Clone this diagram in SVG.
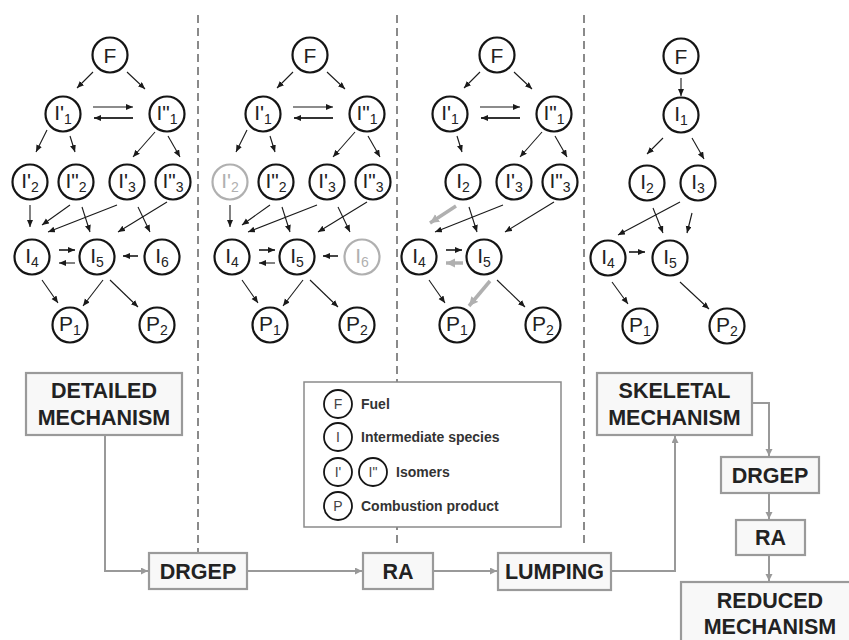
<svg xmlns="http://www.w3.org/2000/svg" width="849" height="640" viewBox="0 0 849 640">
<defs>
<style>
.n circle{fill:#fff;stroke:#151515;stroke-width:2.2}
.n text{font-family:"Liberation Sans",Arial,sans-serif;font-size:21px;fill:#222;text-anchor:middle}
.g circle{stroke:#b0b0b0}
.g text{fill:#b0b0b0}
.sub{font-size:14px}
.e{stroke:#1a1a1a;stroke-width:1.1;fill:none;marker-end:url(#ah)}
.eb{stroke:#333;stroke-width:1.8;fill:none;marker-end:url(#ah)}
.eg{stroke:#b0b0b0;stroke-width:3.5;fill:none;marker-end:url(#ahg)}
.f{stroke:#999;stroke-width:2;fill:none;marker-end:url(#ahf)}
.d{stroke:#8a8a8a;stroke-width:2;stroke-dasharray:8,5;fill:none}
.box rect{fill:#f8f8f8;stroke:#9a9a9a;stroke-width:2.2}
.box text{font-family:"Liberation Sans",Arial,sans-serif;font-size:21.5px;font-weight:bold;fill:#222;text-anchor:middle}
.lg circle{fill:#fff;stroke:#151515;stroke-width:1.8}
.lg .c{font-family:"Liberation Sans",Arial,sans-serif;font-size:14px;fill:#444;text-anchor:middle}
.lg .t{font-family:"Liberation Sans",Arial,sans-serif;font-size:14px;font-weight:bold;fill:#333}
</style>
<marker id="ah" markerUnits="userSpaceOnUse" markerWidth="9" markerHeight="8" refX="7" refY="3" orient="auto"><path d="M0,0 L7,3 L0,6 z" fill="#1a1a1a"/></marker>
<marker id="ahg" markerUnits="userSpaceOnUse" markerWidth="12" markerHeight="12" refX="9" refY="4.5" orient="auto"><path d="M0,0 L9,4.5 L0,9 z" fill="#b0b0b0"/></marker>
<marker id="ahf" markerUnits="userSpaceOnUse" markerWidth="9" markerHeight="9" refX="7" refY="3.5" orient="auto"><path d="M0,0 L7,3.5 L0,7 z" fill="#999"/></marker>
</defs>
<rect width="849" height="640" fill="#fff"/>

<g id="dividers">
<line class="d" x1="198" y1="15" x2="198" y2="552"/>
<line class="d" x1="397" y1="15" x2="397" y2="545"/>
<line class="d" x1="584" y1="15" x2="584" y2="545"/>
</g>

<g id="connectors">
<!-- panel 1 -->
<line class="e" x1="93" y1="72" x2="77" y2="88"/>
<line class="e" x1="127" y1="72" x2="145" y2="89"/>
<line class="e" x1="93" y1="107" x2="133" y2="107"/>
<line class="eb" x1="133" y1="118" x2="94" y2="118"/>
<line class="e" x1="47" y1="130" x2="36" y2="152"/>
<line class="e" x1="70" y1="136" x2="75" y2="152"/>
<line class="e" x1="155" y1="132" x2="133" y2="157"/>
<line class="e" x1="168" y1="136" x2="180" y2="157"/>
<line class="e" x1="30" y1="205" x2="30" y2="227"/>
<line class="e" x1="70" y1="205" x2="42" y2="225"/>
<line class="e" x1="82" y1="207" x2="90" y2="232"/>
<line class="e" x1="117" y1="205" x2="48" y2="232"/>
<line class="e" x1="138" y1="207" x2="150" y2="232"/>
<line class="e" x1="167" y1="202" x2="118" y2="232"/>
<line class="eb" x1="59" y1="250" x2="75" y2="250"/>
<line class="e" x1="75" y1="263" x2="59" y2="263"/>
<line class="eb" x1="138" y1="256" x2="123" y2="256"/>
<line class="e" x1="42" y1="280" x2="58" y2="303"/>
<line class="e" x1="103" y1="280" x2="83" y2="306"/>
<line class="e" x1="110" y1="280" x2="138" y2="307"/>
<!-- panel 2 -->
<line class="e" x1="293" y1="72" x2="277" y2="88"/>
<line class="e" x1="327" y1="72" x2="345" y2="89"/>
<line class="e" x1="293" y1="107" x2="333" y2="107"/>
<line class="eb" x1="333" y1="118" x2="294" y2="118"/>
<line class="e" x1="247" y1="130" x2="236" y2="152"/>
<line class="e" x1="270" y1="136" x2="275" y2="152"/>
<line class="e" x1="355" y1="132" x2="333" y2="157"/>
<line class="e" x1="368" y1="136" x2="380" y2="157"/>
<line class="e" x1="230" y1="205" x2="230" y2="227"/>
<line class="e" x1="270" y1="205" x2="242" y2="225"/>
<line class="e" x1="282" y1="207" x2="290" y2="232"/>
<line class="e" x1="317" y1="205" x2="248" y2="232"/>
<line class="e" x1="338" y1="207" x2="350" y2="232"/>
<line class="e" x1="367" y1="202" x2="318" y2="232"/>
<line class="eb" x1="259" y1="250" x2="275" y2="250"/>
<line class="e" x1="275" y1="263" x2="259" y2="263"/>
<line class="eb" x1="338" y1="256" x2="323" y2="256"/>
<line class="e" x1="242" y1="280" x2="258" y2="303"/>
<line class="e" x1="303" y1="280" x2="283" y2="306"/>
<line class="e" x1="310" y1="280" x2="338" y2="307"/>
<!-- panel 3 -->
<line class="e" x1="480" y1="72" x2="464" y2="88"/>
<line class="e" x1="514" y1="72" x2="532" y2="89"/>
<line class="e" x1="480" y1="107" x2="520" y2="107"/>
<line class="eb" x1="520" y1="118" x2="481" y2="118"/>
<line class="e" x1="457" y1="136" x2="462" y2="152"/>
<line class="e" x1="542" y1="132" x2="520" y2="157"/>
<line class="e" x1="555" y1="136" x2="567" y2="157"/>
<line class="eg" x1="456" y1="206" x2="430" y2="223"/>
<line class="e" x1="469" y1="207" x2="477" y2="232"/>
<line class="e" x1="503" y1="205" x2="435" y2="232"/>
<line class="e" x1="554" y1="202" x2="505" y2="232"/>
<line class="eb" x1="446" y1="250" x2="462" y2="250"/>
<line class="eg" x1="463" y1="263" x2="446" y2="263"/>
<line class="e" x1="429" y1="280" x2="445" y2="303"/>
<line class="eg" x1="490" y1="281" x2="469" y2="306"/>
<line class="e" x1="497" y1="280" x2="525" y2="307"/>
<!-- panel 4 -->
<line class="e" x1="681" y1="78" x2="681" y2="96"/>
<line class="e" x1="663" y1="138" x2="647" y2="154"/>
<line class="e" x1="692" y1="138" x2="704" y2="159"/>
<line class="e" x1="680" y1="202" x2="618" y2="235"/>
<line class="e" x1="653" y1="208" x2="663" y2="233"/>
<line class="e" x1="692" y1="213" x2="687" y2="233"/>
<line class="eb" x1="629" y1="252" x2="645" y2="252"/>
<line class="e" x1="612" y1="282" x2="628" y2="304"/>
<line class="e" x1="680" y1="282" x2="709" y2="309"/>
<!-- process flow -->
<polyline class="f" points="105,435 105,571 148,571"/>
<line class="f" x1="247" y1="571" x2="362" y2="571"/>
<line class="f" x1="433" y1="571" x2="497" y2="571"/>
<polyline class="f" points="611,571 675,571 675,436"/>
<polyline class="f" points="752,403 769,403 769,456"/>
<line class="f" x1="769" y1="493" x2="769" y2="519"/>
<line class="f" x1="769" y1="555" x2="769" y2="581"/>
</g>

<!-- panel 1 nodes -->
<g id="p1_F" class="n"><circle cx="110" cy="55" r="17.5"/><text x="110" y="63">F</text></g>
<g id="p1_I1a" class="n"><circle cx="63" cy="114" r="17.5"/><text x="63" y="120">I'<tspan class="sub" dy="4">1</tspan></text></g>
<g id="p1_I1b" class="n"><circle cx="167" cy="114" r="17.5"/><text x="167" y="120">I"<tspan class="sub" dy="4">1</tspan></text></g>
<g id="p1_I2a" class="n"><circle cx="30" cy="182" r="17.5"/><text x="30" y="188">I'<tspan class="sub" dy="4">2</tspan></text></g>
<g id="p1_I2b" class="n"><circle cx="76" cy="182" r="17.5"/><text x="76" y="188">I"<tspan class="sub" dy="4">2</tspan></text></g>
<g id="p1_I3a" class="n"><circle cx="127" cy="182" r="17.5"/><text x="127" y="188">I'<tspan class="sub" dy="4">3</tspan></text></g>
<g id="p1_I3b" class="n"><circle cx="173" cy="182" r="17.5"/><text x="173" y="188">I"<tspan class="sub" dy="4">3</tspan></text></g>
<g id="p1_I4" class="n"><circle cx="32" cy="257" r="17.5"/><text x="32" y="263">I<tspan class="sub" dy="4">4</tspan></text></g>
<g id="p1_I5" class="n"><circle cx="97" cy="257" r="17.5"/><text x="97" y="263">I<tspan class="sub" dy="4">5</tspan></text></g>
<g id="p1_I6" class="n"><circle cx="162" cy="257" r="17.5"/><text x="162" y="263">I<tspan class="sub" dy="4">6</tspan></text></g>
<g id="p1_P1" class="n"><circle cx="70" cy="325" r="17.5"/><text x="70" y="331">P<tspan class="sub" dy="4">1</tspan></text></g>
<g id="p1_P2" class="n"><circle cx="157" cy="325" r="17.5"/><text x="157" y="331">P<tspan class="sub" dy="4">2</tspan></text></g>

<!-- panel 2 nodes -->
<g id="p2_F" class="n"><circle cx="310" cy="55" r="17.5"/><text x="310" y="63">F</text></g>
<g id="p2_I1a" class="n"><circle cx="263" cy="114" r="17.5"/><text x="263" y="120">I'<tspan class="sub" dy="4">1</tspan></text></g>
<g id="p2_I1b" class="n"><circle cx="367" cy="114" r="17.5"/><text x="367" y="120">I"<tspan class="sub" dy="4">1</tspan></text></g>
<g id="p2_I2a" class="n g"><circle cx="230" cy="182" r="17.5"/><text x="230" y="188">I'<tspan class="sub" dy="4">2</tspan></text></g>
<g id="p2_I2b" class="n"><circle cx="276" cy="182" r="17.5"/><text x="276" y="188">I"<tspan class="sub" dy="4">2</tspan></text></g>
<g id="p2_I3a" class="n"><circle cx="327" cy="182" r="17.5"/><text x="327" y="188">I'<tspan class="sub" dy="4">3</tspan></text></g>
<g id="p2_I3b" class="n"><circle cx="373" cy="182" r="17.5"/><text x="373" y="188">I"<tspan class="sub" dy="4">3</tspan></text></g>
<g id="p2_I4" class="n"><circle cx="232" cy="257" r="17.5"/><text x="232" y="263">I<tspan class="sub" dy="4">4</tspan></text></g>
<g id="p2_I5" class="n"><circle cx="297" cy="257" r="17.5"/><text x="297" y="263">I<tspan class="sub" dy="4">5</tspan></text></g>
<g id="p2_I6" class="n g"><circle cx="362" cy="257" r="17.5"/><text x="362" y="263">I<tspan class="sub" dy="4">6</tspan></text></g>
<g id="p2_P1" class="n"><circle cx="270" cy="325" r="17.5"/><text x="270" y="331">P<tspan class="sub" dy="4">1</tspan></text></g>
<g id="p2_P2" class="n"><circle cx="357" cy="325" r="17.5"/><text x="357" y="331">P<tspan class="sub" dy="4">2</tspan></text></g>

<!-- panel 3 nodes -->
<g id="p3_F" class="n"><circle cx="497" cy="55" r="17.5"/><text x="497" y="63">F</text></g>
<g id="p3_I1a" class="n"><circle cx="450" cy="114" r="17.5"/><text x="450" y="120">I'<tspan class="sub" dy="4">1</tspan></text></g>
<g id="p3_I1b" class="n"><circle cx="554" cy="114" r="17.5"/><text x="554" y="120">I"<tspan class="sub" dy="4">1</tspan></text></g>
<g id="p3_I2" class="n"><circle cx="463" cy="182" r="17.5"/><text x="463" y="188">I<tspan class="sub" dy="4">2</tspan></text></g>
<g id="p3_I3a" class="n"><circle cx="514" cy="182" r="17.5"/><text x="514" y="188">I'<tspan class="sub" dy="4">3</tspan></text></g>
<g id="p3_I3b" class="n"><circle cx="560" cy="182" r="17.5"/><text x="560" y="188">I"<tspan class="sub" dy="4">3</tspan></text></g>
<g id="p3_I4" class="n"><circle cx="419" cy="257" r="17.5"/><text x="419" y="263">I<tspan class="sub" dy="4">4</tspan></text></g>
<g id="p3_I5" class="n"><circle cx="484" cy="257" r="17.5"/><text x="484" y="263">I<tspan class="sub" dy="4">5</tspan></text></g>
<g id="p3_P1" class="n"><circle cx="457" cy="325" r="17.5"/><text x="457" y="331">P<tspan class="sub" dy="4">1</tspan></text></g>
<g id="p3_P2" class="n"><circle cx="543" cy="325" r="17.5"/><text x="543" y="331">P<tspan class="sub" dy="4">2</tspan></text></g>

<!-- panel 4 nodes -->
<g id="p4_F" class="n"><circle cx="681" cy="56" r="17.5"/><text x="681" y="64">F</text></g>
<g id="p4_I1" class="n"><circle cx="681" cy="115" r="17.5"/><text x="681" y="121">I<tspan class="sub" dy="4">1</tspan></text></g>
<g id="p4_I2" class="n"><circle cx="647" cy="183" r="17.5"/><text x="647" y="189">I<tspan class="sub" dy="4">2</tspan></text></g>
<g id="p4_I3" class="n"><circle cx="698" cy="183" r="17.5"/><text x="698" y="189">I<tspan class="sub" dy="4">3</tspan></text></g>
<g id="p4_I4" class="n"><circle cx="608" cy="258" r="17.5"/><text x="608" y="264">I<tspan class="sub" dy="4">4</tspan></text></g>
<g id="p4_I5" class="n"><circle cx="670" cy="258" r="17.5"/><text x="670" y="264">I<tspan class="sub" dy="4">5</tspan></text></g>
<g id="p4_P1" class="n"><circle cx="640" cy="326" r="17.5"/><text x="640" y="332">P<tspan class="sub" dy="4">1</tspan></text></g>
<g id="p4_P2" class="n"><circle cx="727" cy="326" r="17.5"/><text x="727" y="332">P<tspan class="sub" dy="4">2</tspan></text></g>

<!-- legend -->
<g id="legend" class="lg">
<rect x="304" y="382" width="257" height="145" fill="#fff" stroke="#8a8a8a" stroke-width="1.5"/>
<circle cx="338" cy="404" r="14"/><text class="c" x="338" y="409">F</text>
<text class="t" x="361" y="409">Fuel</text>
<circle cx="338" cy="437" r="14"/><text class="c" x="338" y="442">I</text>
<text class="t" x="361" y="442">Intermediate species</text>
<circle cx="338" cy="472" r="14"/><text class="c" x="338" y="477">I'</text>
<circle cx="373" cy="472" r="14"/><text class="c" x="373" y="477">I"</text>
<text class="t" x="396" y="477">Isomers</text>
<circle cx="338" cy="506" r="14"/><text class="c" x="338" y="511">P</text>
<text class="t" x="361" y="511">Combustion product</text>
</g>

<!-- process boxes -->
<g id="detailed" class="box"><rect x="26" y="373" width="156" height="62"/><text x="104" y="398">DETAILED</text><text x="104" y="425">MECHANISM</text></g>
<g id="drgep1" class="box"><rect x="149" y="553" width="98" height="36"/><text x="198" y="579">DRGEP</text></g>
<g id="ra1" class="box"><rect x="363" y="553" width="70" height="36"/><text x="398" y="579">RA</text></g>
<g id="lumping" class="box"><rect x="498" y="553" width="113" height="37"/><text x="554.5" y="579">LUMPING</text></g>
<g id="skeletal" class="box"><rect x="597" y="373" width="155" height="62"/><text x="674.5" y="398">SKELETAL</text><text x="674.5" y="425">MECHANISM</text></g>
<g id="drgep2" class="box"><rect x="721" y="457" width="98" height="36"/><text x="770" y="483">DRGEP</text></g>
<g id="ra2" class="box"><rect x="736" y="520" width="69" height="35"/><text x="770.5" y="545">RA</text></g>
<g id="reduced" class="box"><rect x="681" y="582" width="180" height="70"/><text x="770" y="608">REDUCED</text><text x="770" y="634">MECHANISM</text></g>
</svg>
